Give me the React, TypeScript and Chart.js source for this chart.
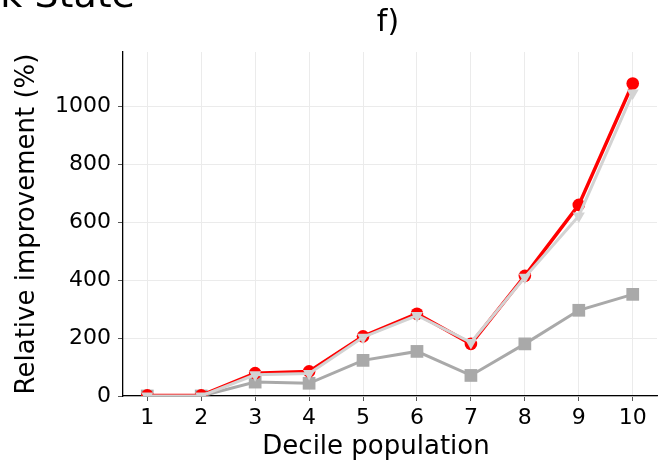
import React, { useEffect, useRef } from "react";
import { Chart, registerables } from "chart.js";

Chart.register(...registerables);

const deciles = [1, 2, 3, 4, 5, 6, 7, 8, 9, 10];
const redCircle = [2, 2, 79, 85, 206, 284, 180, 415, 660, 1079];
const greyTriangle = [0, 0, 73, 78, 203, 278, 185, 410, 622, 1046];
const darkSquare = [0, 0, 48, 44, 123, 154, 71, 180, 296, 351];
const xTicks = [1, 2, 3, 4, 5, 6, 7, 8, 9, 10];
const yTicks = [0, 200, 400, 600, 800, 1000];

const FONT = "'DejaVu Sans', sans-serif";

const pts = (ys: number[]) => deciles.map((x, i) => ({ x, y: ys[i] }));

const texts = {
  id: "texts",
  afterDraw(chart: any) {
    const ctx = chart.ctx;
    const area = chart.chartArea;
    ctx.save();
    ctx.fillStyle = "#000";
    ctx.font = `38px ${FONT}`;
    ctx.textAlign = "right";
    ctx.textBaseline = "alphabetic";
    ctx.fillText("York State", 135, 7);
    ctx.font = `30px ${FONT}`;
    ctx.textAlign = "center";
    ctx.textBaseline = "middle";
    ctx.fillText("f)", (area.left + area.right) / 2 - 2, 23);
    ctx.font = `26px ${FONT}`;
    ctx.fillText("Decile population", (area.left + area.right) / 2 - 14, 447);
    ctx.restore();
  },
};

export default function App() {
  const ref = useRef<HTMLCanvasElement>(null);
  useEffect(() => {
    if (!ref.current) return;
    const chart = new Chart(ref.current, {
      type: "line",
      data: {
        datasets: [
          {
            data: pts(greyTriangle),
            borderColor: "#d3d3d3",
            backgroundColor: "#d3d3d3",
            borderWidth: 3,
            pointStyle: "triangle",
            pointRotation: 180,
            pointRadius: 7,
            pointBorderWidth: 0,
          },
          {
            data: pts(redCircle),
            borderColor: "#ff0000",
            backgroundColor: "#ff0000",
            borderWidth: 3.5,
            pointStyle: "circle",
            pointRadius: 6.3,
            pointBorderWidth: 0,
          },
          {
            data: pts(darkSquare),
            borderColor: "#a9a9a9",
            backgroundColor: "#a9a9a9",
            borderWidth: 3,
            pointStyle: "rect",
            pointRadius: 9,
            pointBorderWidth: 0,
          },
        ],
      },
      options: {
        animation: false,
        responsive: false,
        layout: { padding: { top: 52, right: 13, left: 0, bottom: 0 } },
        plugins: {
          legend: { display: false },
          tooltip: { enabled: false },
          title: { display: false },
        },
        scales: {
          x: {
            type: "linear",
            min: 0.55,
            max: 10.45,
            afterBuildTicks: (s: any) => {
              s.ticks = xTicks.map((v) => ({ value: v }));
            },
            afterFit: (s: any) => {
              s.height = 68;
            },
            ticks: {
              color: "#000",
              font: { family: FONT, size: 22 },
              padding: 4,
              maxRotation: 0,
              autoSkip: false,
              callback: (v: any) => String(v),
            },
            grid: { color: "#ebebeb", lineWidth: 1, tickColor: "#555", tickLength: 5 },
            border: { color: "#000", width: 1.3 },
          },
          y: {
            type: "linear",
            min: 0,
            max: 1188,
            afterBuildTicks: (s: any) => {
              s.ticks = yTicks.map((v) => ({ value: v }));
            },
            afterFit: (s: any) => {
              s.width = 123;
            },
            ticks: {
              color: "#000",
              font: { family: FONT, size: 22 },
              padding: 7,
              callback: (v: any) => String(v),
            },
            grid: { color: "#ebebeb", lineWidth: 1, tickColor: "#555", tickLength: 5 },
            border: { color: "#000", width: 1.3 },
            title: {
              display: true,
              text: "Relative improvement (%)",
              color: "#000",
              font: { family: FONT, size: 26 },
              padding: { top: 12, bottom: 0 },
            },
          },
        },
      },
      plugins: [texts],
    });
    return () => chart.destroy();
  }, []);
  return (
    <div style={{ position: "absolute", left: 0, top: 0, width: 670, height: 464, background: "#fff" }}>
      <canvas ref={ref} width={670} height={464} />
    </div>
  );
}
